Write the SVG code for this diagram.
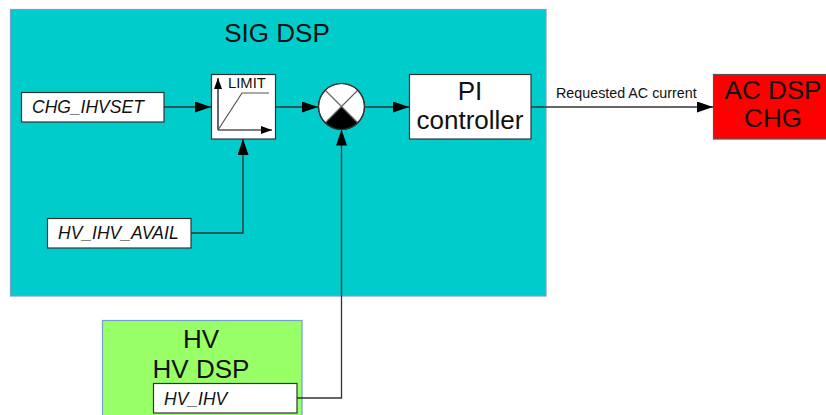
<svg xmlns="http://www.w3.org/2000/svg" width="826" height="415" viewBox="0 0 826 415">
<defs>
<style>
.big{font-family:"Liberation Sans",Arial,sans-serif;font-size:26px;fill:#111;text-anchor:middle}
.sig{font-family:"Liberation Sans",Arial,sans-serif;font-size:17.5px;font-style:italic;fill:#111}
.lbl{font-family:"Liberation Sans",Arial,sans-serif;font-size:14.3px;fill:#111}
.wbox{fill:#fff;stroke:#333;stroke-width:1.2}
.con{fill:none;stroke:#333;stroke-width:1.3}
</style>
<marker id="arr" markerUnits="userSpaceOnUse" markerWidth="17" markerHeight="12" refX="16" refY="5.5" orient="auto">
<path d="M0,0 L16,5.5 L0,11 z" fill="#000"/>
</marker>
<marker id="arrs" markerUnits="userSpaceOnUse" markerWidth="12" markerHeight="9" refX="11" refY="4" orient="auto">
<path d="M0,0 L11,4 L0,8 z" fill="#000"/>
</marker>
</defs>
<rect width="826" height="415" fill="#fff"/>

<g id="sig_dsp">
<rect x="10.5" y="9.5" width="535.5" height="286.5" fill="#00cccc" stroke="#729fcf" stroke-width="1.2"/>
<text class="big" x="277" y="42">SIG DSP</text>
</g>

<g id="hv_dsp">
<rect x="102.5" y="320.5" width="199.5" height="100" fill="#99ff66" stroke="#729fcf" stroke-width="1.2"/>
<text class="big" x="201" y="348">HV</text>
<text class="big" x="201" y="378">HV DSP</text>
</g>

<g id="chg_ihvset">
<rect class="wbox" x="21.5" y="92.5" width="142.5" height="29.5"/>
<text class="sig" x="32" y="113">CHG_IHVSET</text>
</g>

<g id="hv_ihv_avail">
<rect class="wbox" x="47.5" y="218.5" width="143.5" height="29.5"/>
<text class="sig" x="58" y="239">HV_IHV_AVAIL</text>
</g>

<g id="hv_ihv">
<rect class="wbox" x="153.5" y="383.5" width="143.5" height="29.5"/>
<text class="sig" x="164" y="405">HV_IHV</text>
</g>

<g id="limit">
<rect class="wbox" x="211.5" y="74.5" width="64" height="64.5"/>
<line x1="218" y1="130" x2="218" y2="78" stroke="#000" stroke-width="1.2" marker-end="url(#arrs)"/>
<line x1="218" y1="130" x2="272" y2="130" stroke="#000" stroke-width="1.2" marker-end="url(#arrs)"/>
<polyline points="218,130 242,93 269,93" fill="none" stroke="#555" stroke-width="1.2"/>
<text x="228" y="87.5" style="font-family:'Liberation Sans',Arial,sans-serif;font-size:14.8px;fill:#111">LIMIT</text>
</g>

<g id="sum">
<circle cx="341.5" cy="106.5" r="23" fill="#fff" stroke="#333" stroke-width="1.2"/>
<path d="M341.5,106.5 L357.76,122.76 A23,23 0 0 1 325.24,122.76 Z" fill="#000"/>
<line x1="325.24" y1="90.24" x2="357.76" y2="122.76" stroke="#666" stroke-width="1.2"/>
<line x1="357.76" y1="90.24" x2="325.24" y2="122.76" stroke="#666" stroke-width="1.2"/>
<circle cx="341.5" cy="106.5" r="23" fill="none" stroke="#333" stroke-width="1.2"/>
</g>

<g id="pi">
<rect class="wbox" x="409.5" y="74.5" width="121.5" height="64.5"/>
<text class="big" x="470" y="100">PI</text>
<text class="big" x="470" y="128.5">controller</text>
</g>

<g id="ac_dsp">
<rect x="713.5" y="74.5" width="120" height="64.5" fill="#ff0000" stroke="#555" stroke-width="1.2"/>
<text class="big" x="773" y="99">AC DSP</text>
<text class="big" x="773" y="127">CHG</text>
</g>

<g id="connectors">
<path class="con" d="M164,107 H211" marker-end="url(#arr)"/>
<path class="con" d="M276,107 H318" marker-end="url(#arr)"/>
<path class="con" d="M364.5,107 H409" marker-end="url(#arr)"/>
<path class="con" d="M531,107 H713" marker-end="url(#arr)"/>
<path class="con" d="M191,233 H243 V139" marker-end="url(#arr)"/>
<path class="con" d="M297,398 H341.5 V129.5" marker-end="url(#arr)"/>
<text class="lbl" x="556" y="98">Requested AC current</text>
</g>
</svg>
